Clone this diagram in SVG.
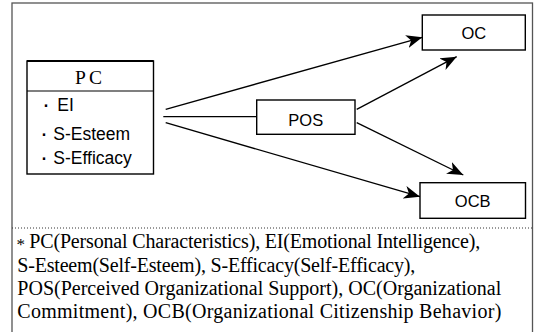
<svg xmlns="http://www.w3.org/2000/svg" width="535" height="332" viewBox="0 0 535 332">
  <style>
    .box { fill: #fff; stroke: #000; stroke-width: 1.4; }
    .sans { font-family: "Liberation Sans", Arial, sans-serif; fill: #000; }
    .serif { font-family: "Liberation Serif", "Times New Roman", serif; fill: #000; }
    .conn { stroke: #000; stroke-width: 1.3; fill: none; }
    .arr { marker-end: url(#head); }
    .dot { font-size: 24px; }
  </style>
  <defs>
    <marker id="head" markerUnits="userSpaceOnUse" markerWidth="18" markerHeight="14" refX="16" refY="6.5" orient="auto">
      <path d="M0,0 L16,6.5 L0,13 L4.5,6.5 Z" fill="#000"/>
    </marker>
  </defs>
  <rect x="0" y="0" width="535" height="332" fill="#fff"/>
  <g id="frame">
    <rect x="12" y="3" width="520.5" height="340" fill="none" stroke="#555" stroke-width="1.3"/>
    <line x1="12" y1="228" x2="532.5" y2="228" stroke="#333" stroke-width="1" stroke-dasharray="1,2"/>
  </g>
  <g id="connectors">
    <line class="conn arr" x1="165.7" y1="109.3" x2="422.3" y2="37.3"/>
    <line class="conn" x1="163.3" y1="116.7" x2="256.7" y2="116.7"/>
    <line class="conn arr" x1="165.7" y1="122.7" x2="420" y2="196.7"/>
    <line class="conn arr" x1="356.7" y1="109.3" x2="456.7" y2="56.7"/>
    <line class="conn arr" x1="356.7" y1="122.7" x2="463.3" y2="175"/>
  </g>
  <g id="PC">
    <rect class="box" x="27" y="61" width="126.5" height="113"/>
    <line x1="27" y1="61" x2="153.5" y2="61" stroke="#000" stroke-width="2.2"/>
    <line x1="27" y1="91" x2="153.5" y2="91" stroke="#000" stroke-width="1.2"/>
    <text class="serif" y="84.3" font-size="19.5"><tspan x="75">P </tspan><tspan x="89">C</tspan></text>
    <text class="sans" y="111" font-size="17.5"><tspan class="dot" x="42" y="112">·</tspan><tspan x="57.3" y="111">EI</tspan></text>
    <text class="sans" y="139.5" font-size="17.5"><tspan class="dot" x="40" y="140.5">·</tspan><tspan x="53.3" y="139.5">S-Esteem</tspan></text>
    <text class="sans" y="164" font-size="17.5"><tspan class="dot" x="40" y="165">·</tspan><tspan x="53.3" y="164">S-Efficacy</tspan></text>
  </g>
  <g id="POS">
    <rect class="box" x="256.7" y="100" width="98.3" height="34.3"/>
    <text class="sans" x="305.8" y="125.7" font-size="16.5" text-anchor="middle">POS</text>
  </g>
  <g id="OC">
    <rect class="box" x="422.3" y="15" width="103" height="35" stroke-width="1.7"/>
    <text class="sans" x="473.8" y="39.3" font-size="16.5" text-anchor="middle">OC</text>
  </g>
  <g id="OCB">
    <rect class="box" x="420" y="182.7" width="105.5" height="35.6" stroke-width="1.7"/>
    <text class="sans" x="472.7" y="206.7" font-size="16.5" text-anchor="middle">OCB</text>
  </g>
  <g id="note">
    <text class="serif" x="16.5" y="250" font-size="17">*</text>
    <text class="serif" x="29.3" y="248.3" font-size="20" textLength="451" lengthAdjust="spacing">PC(Personal Characteristics), EI(Emotional Intelligence),</text>
    <text class="serif" x="17.3" y="271.7" font-size="20" textLength="398" lengthAdjust="spacing">S-Esteem(Self-Esteem), S-Efficacy(Self-Efficacy),</text>
    <text class="serif" x="17.3" y="295" font-size="20" textLength="484" lengthAdjust="spacing">POS(Perceived Organizational Support), OC(Organizational</text>
    <text class="serif" x="17.3" y="318.3" font-size="20" textLength="484" lengthAdjust="spacing">Commitment), OCB(Organizational Citizenship Behavior)</text>
  </g>
</svg>
